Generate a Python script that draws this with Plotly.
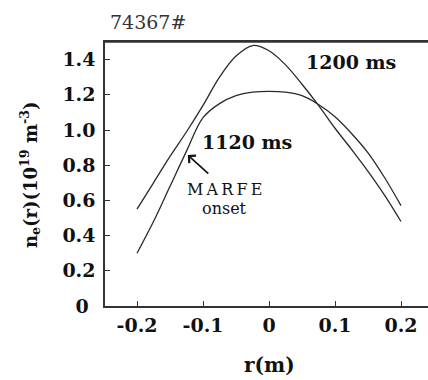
import plotly.graph_objects as go

# Data
r_vals = [-0.2, -0.175, -0.15, -0.125, -0.1, -0.075, -0.05, -0.025, 0.0,
          0.025, 0.05, 0.075, 0.1, 0.125, 0.15, 0.175, 0.2]
ne_1200 = [0.55, 0.70, 0.85, 0.99, 1.14, 1.30, 1.42, 1.48, 1.45,
           1.37, 1.26, 1.14, 1.01, 0.89, 0.765, 0.63, 0.48]
ne_1120 = [0.30, 0.48, 0.68, 0.88, 1.07, 1.15, 1.195, 1.215, 1.22,
           1.215, 1.195, 1.145, 1.075, 0.98, 0.87, 0.73, 0.57]

x_tickvals = [-0.2, -0.1, 0.0, 0.1, 0.2]
x_ticktext = ["-0.2", "-0.1", "0", "0.1", "0.2"]
y_tickvals = [0, 0.2, 0.4, 0.6, 0.8, 1.0, 1.2, 1.4]
y_ticktext = ["0\u00a0", "0.2", "0.4", "0.6", "0.8", "1.0", "1.2", "1.4"]

FONT = "DejaVu Serif"
LINE = "#2a2a2a"

fig = go.Figure()
for name, ys in [("1200 ms", ne_1200), ("1120 ms", ne_1120)]:
    fig.add_trace(go.Scatter(x=r_vals, y=ys, mode="lines", name=name,
                             line=dict(color=LINE, width=1.3, shape="spline", smoothing=1.0),
                             showlegend=False, hoverinfo="skip"))

axis_common = dict(showgrid=False, zeroline=False, showline=True, linecolor="#333",
                   linewidth=1.5, ticks="inside", ticklen=5, tickwidth=1.2, tickcolor="#333",
                   automargin=False,
                   tickfont=dict(family=FONT, size=19, color="#111", weight="bold"))

fig.update_xaxes(range=[-0.2485, 0.2409], tickmode="array", tickvals=x_tickvals,
                 ticktext=x_ticktext, mirror=True, ticklabelstandoff=1, **axis_common)
fig.update_yaxes(range=[0, 1.5], tickmode="array", tickvals=y_tickvals,
                 ticktext=y_ticktext, ticklabelstandoff=4, **axis_common)

# top frame line
fig.add_shape(type="line", xref="paper", yref="paper", x0=0, x1=1, y0=1, y1=1,
              line=dict(color="#333", width=1.5))

ann_font_b = dict(family=FONT, size=19, color="#111", weight="bold")
fig.add_annotation(x=0.124, y=1.386, xref="x", yref="y", text="1200 ms",
                   showarrow=False, font=ann_font_b)
fig.add_annotation(x=-0.033, y=0.93, xref="x", yref="y", text="1120 ms",
                   showarrow=False, font=ann_font_b)
fig.add_annotation(x=-0.067, y=0.66, xref="x", yref="y",
                   text="M\u2009A\u2009R\u2009F\u2009E",
                   showarrow=False, font=dict(family=FONT, size=16, color="#111"))
fig.add_annotation(x=-0.068, y=0.555, xref="x", yref="y", text="onset",
                   showarrow=False, font=dict(family=FONT, size=16, color="#111"))
# MARFE arrow
fig.add_annotation(x=-0.123, y=0.858, xref="x", yref="y", ax=22, ay=20,
                   text="", showarrow=True, arrowhead=4, arrowsize=1.2,
                   arrowwidth=1.6, arrowcolor="#111")

fig.add_annotation(x=0.133, y=1.076, xref="paper", yref="paper", text="74367#",
                   showarrow=False, xanchor="center", yanchor="middle",
                   font=dict(family=FONT, size=19, color="#333"))
fig.add_annotation(x=0.508, y=-0.2235, xref="paper", yref="paper", text="r(m)",
                   showarrow=False, xanchor="center", yanchor="middle",
                   font=dict(family=FONT, size=20, color="#111", weight="bold"))
fig.add_annotation(x=-0.232, y=0.496, xref="paper", yref="paper",
                   text="n<sub>e</sub>(r)(10<sup>19</sup> m<sup>-3</sup>)",
                   textangle=-90, showarrow=False, xanchor="center", yanchor="middle",
                   font=dict(family=FONT, size=18, color="#111", weight="bold"))

fig.update_layout(width=428, height=380, margin=dict(l=105, r=0, t=42, b=74),
                  paper_bgcolor="white", plot_bgcolor="white")

fig.write_html("out.html", config={"displayModeBar": False},
               post_script="document.body.style.margin='0';document.body.style.overflow='hidden';")
